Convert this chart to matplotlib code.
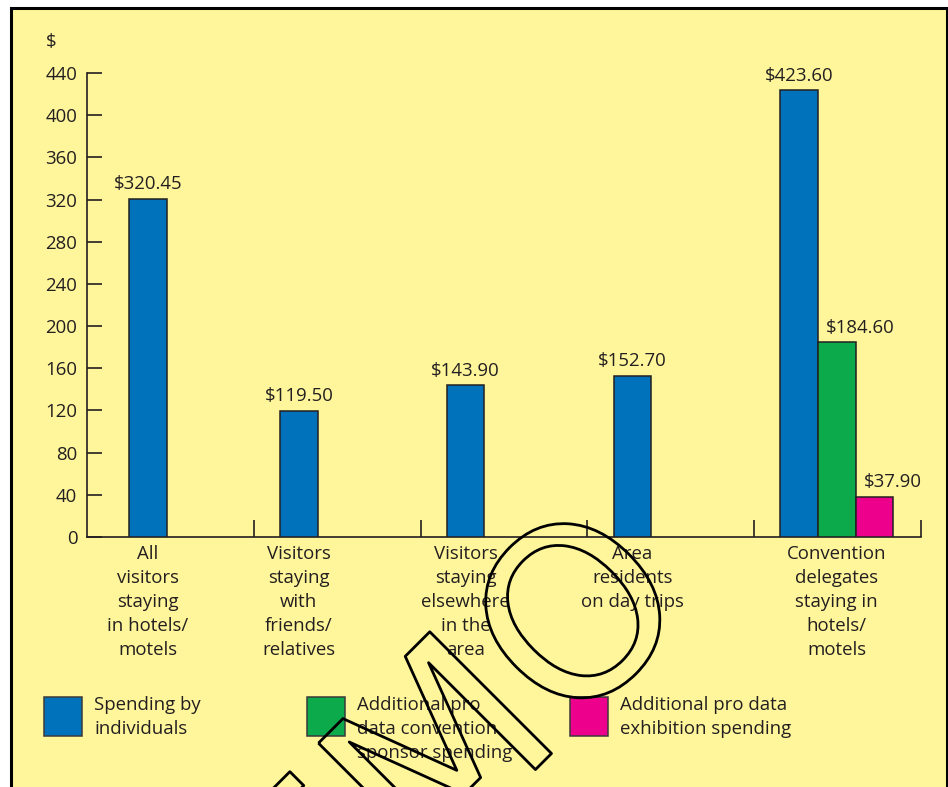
import matplotlib.pyplot as plt
import matplotlib.patheffects as pe
from matplotlib.patches import Rectangle
import numpy as np

plt.rcParams['font.family'] = ['Open Sans', 'DejaVu Sans']

categories = ["All\nvisitors\nstaying\nin hotels/\nmotels",
              "Visitors\nstaying\nwith\nfriends/\nrelatives",
              "Visitors\nstaying\nelsewhere\nin the\narea",
              "Area\nresidents\non day trips",
              "Convention\ndelegates\nstaying in\nhotels/\nmotels"]
individuals = [320.45, 119.50, 143.90, 152.70, 423.60]
sponsor = [184.60]       # only convention delegates
exhibition = [37.90]     # only convention delegates
series_names = ["Spending by\nindividuals",
                "Additional pro\ndata convention\nsponsor spending",
                "Additional pro data\nexhibition spending"]
yticks = list(range(0, 441, 40))

BLUE = '#0072BC'
GREEN = '#0DAA4B'
MAGENTA = '#EC008C'
YELLOW = '#FFF69B'
INK = '#231F20'
colors = [BLUE, GREEN, MAGENTA]
FS = 13.4

W, H = 948, 787
fig = plt.figure(figsize=(W / 100, H / 100), dpi=100, facecolor='white')

# yellow panel with black frame (bottom edge runs off the page)
fig.patches.append(Rectangle((10.5 / W, -0.05), (947 - 10.5) / W, 1.05 - 8 / H,
                             transform=fig.transFigure, facecolor=YELLOW,
                             edgecolor='black', linewidth=2.2, zorder=-5))

ax = fig.add_axes([87 / W, 1 - 537 / H, (921 - 87) / W, 464 / H])
ax.set_zorder(1)
ax.set_facecolor('none')
ax.set_xlim(0, 5)
ax.set_ylim(0, 440)

w = 0.225
blue_x = np.array([0.365, 1.27, 2.27, 3.27, 4.27])
green_x = blue_x[-1:] + w
mag_x = blue_x[-1:] + 2 * w

bar_kw = dict(width=w, edgecolor=INK, linewidth=1.1, zorder=3)
ax.bar(blue_x, individuals, color=BLUE, **bar_kw)
ax.bar(green_x, sponsor, color=GREEN, **bar_kw)
ax.bar(mag_x, exhibition, color=MAGENTA, **bar_kw)

txt_kw = dict(fontsize=FS, color=INK)
for x, v in zip(blue_x, individuals):
    ax.annotate(f"${v:.2f}", (x, v), xytext=(0, 7), textcoords='offset points',
                ha='center', va='baseline', **txt_kw)
for xs, vals in ((green_x, sponsor), (mag_x, exhibition)):
    for x, v in zip(xs, vals):
        ax.annotate(f"${v:.2f}", (x - w / 2, v), xytext=(6, 7), textcoords='offset points',
                    ha='left', va='baseline', **txt_kw)

for s in ('top', 'right'):
    ax.spines[s].set_visible(False)
for s in ('left', 'bottom'):
    ax.spines[s].set_color(INK)
    ax.spines[s].set_linewidth(1.2)

ax.set_yticks(yticks)
ax.tick_params(axis='y', direction='in', length=11, width=1.2, color=INK,
               labelsize=FS, labelcolor=INK, pad=7)
ax.set_xticks([1, 2, 3, 4, 5])
ax.set_xticklabels([])
ax.tick_params(axis='x', which='major', direction='in', length=12, width=1.2, color=INK)
label_x = list(blue_x[:4]) + list(green_x)
ax.set_xticks(label_x, minor=True)
ax.set_xticklabels(categories, minor=True, fontsize=FS, color=INK, linespacing=1.42)
ax.tick_params(axis='x', which='minor', length=0, pad=6)

fig.text(51 / W, 1 - 42 / H, "$", ha='center', va='center', **txt_kw)

# legend
for i, (name, c) in enumerate(zip(series_names, colors)):
    x0 = 44 + i * 263
    fig.patches.append(Rectangle((x0 / W, 1 - 736 / H), 38 / W, 39 / H,
                                 transform=fig.transFigure, facecolor=c,
                                 edgecolor='#3a3a3a', linewidth=1.1, zorder=2))
    fig.text((x0 + 50) / W, 1 - 696 / H, name, ha='left', va='top',
             linespacing=1.42, **txt_kw)

# watermark stamp
fig.text(699 / W, 1 - 606 / H, "DEMO", fontsize=170, rotation=45, rotation_mode='anchor',
         family='DejaVu Sans', color='none', ha='right', va='baseline',
         path_effects=[pe.Stroke(linewidth=2, foreground='black')], zorder=5)

fig.savefig('out.png', dpi=100, facecolor='white')
